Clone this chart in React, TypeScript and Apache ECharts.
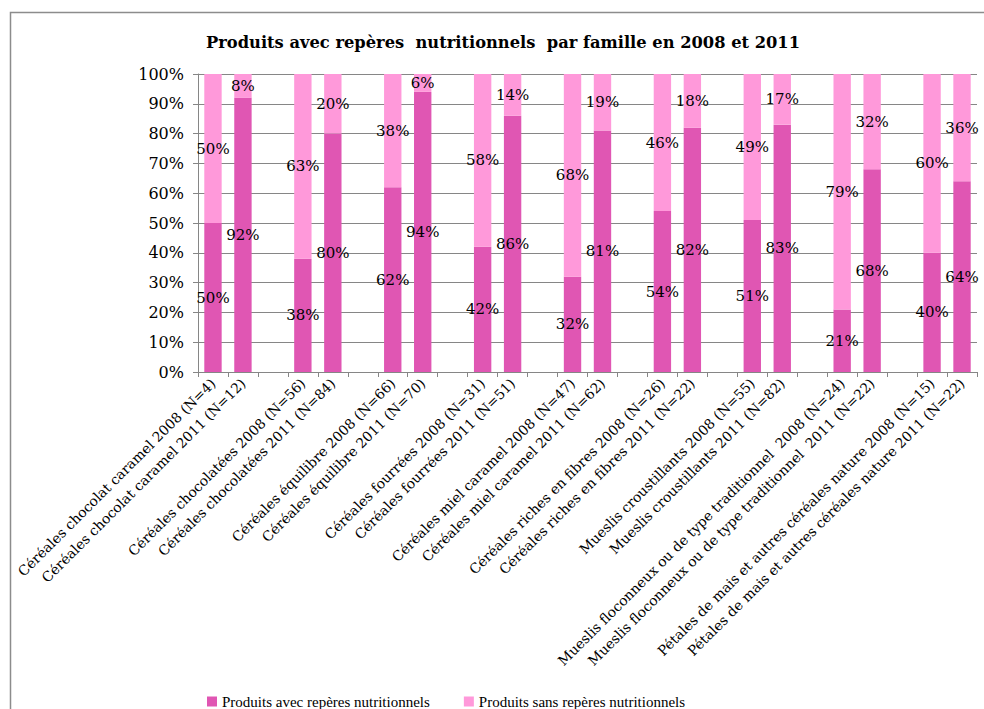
import React, { useEffect, useRef } from "react";
import * as echarts from "echarts";

const families = [
  "Céréales chocolat caramel",
  "Céréales chocolatées",
  "Céréales équilibre",
  "Céréales fourrées",
  "Céréales miel caramel",
  "Céréales riches en fibres",
  "Mueslis croustillants",
  "Mueslis floconneux ou de type traditionnel ",
  "Pétales de mais et autres céréales nature",
];
const n2008 = [4, 56, 66, 31, 47, 26, 55, 24, 15];
const n2011 = [12, 84, 70, 51, 62, 22, 82, 22, 22];
const avec2008 = [50, 38, 62, 42, 32, 54, 51, 21, 40];
const avec2011 = [92, 80, 94, 86, 81, 82, 83, 68, 64];
const sans2008 = [50, 63, 38, 58, 68, 46, 49, 79, 60];
const sans2011 = [8, 20, 6, 14, 19, 18, 17, 32, 36];

const seriesNames = ["Produits avec repères nutritionnels", "Produits sans repères nutritionnels"];
const titleText = "Produits avec repères  nutritionnels  par famille en 2008 et 2011";

const categories: string[] = [];
const avecData: (number | string)[] = [];
const sansData: (number | string)[] = [];
families.forEach((f, i) => {
  if (i > 0) {
    categories.push(" ".repeat(i));
    avecData.push("-");
    sansData.push("-");
  }
  categories.push(`${f} 2008 (N=${n2008[i]})`);
  categories.push(`${f} 2011 (N=${n2011[i]})`);
  avecData.push(avec2008[i], avec2011[i]);
  sansData.push(sans2008[i], sans2011[i]);
});

const FONT = "'DejaVu Serif', serif";

export default function App() {
  const ref = useRef<HTMLDivElement>(null);
  useEffect(() => {
    if (!ref.current) return;
    const chart = echarts.init(ref.current, null, { renderer: "svg" });
    const label = {
      show: true,
      position: "inside",
      color: "#000",
      fontFamily: FONT,
      fontSize: 15,
      formatter: (p: any) => `${p.value}%`,
    };
    chart.setOption({
      animation: false,
      backgroundColor: "#fff",
      title: {
        text: titleText,
        left: 201,
        top: 29,
        textStyle: { fontFamily: FONT, fontWeight: "bold", fontSize: 16.3, color: "#000" },
      },
      graphic: [
        {
          type: "rect",
          shape: { x: 10.5, y: 12.5, width: 1000, height: 720 },
          style: { fill: "none", stroke: "#8c8c8c", lineWidth: 1.5 },
          silent: true,
        },
      ],
      legend: {
        left: 202,
        top: 689,
        itemWidth: 10,
        itemHeight: 10,
        itemGap: 34,
        icon: "rect",
        textStyle: { fontFamily: "'Liberation Serif', serif", fontSize: 15, color: "#000" },
        data: seriesNames,
      },
      grid: { left: 198, right: 7, top: 74, bottom: 337, containLabel: false },
      xAxis: {
        type: "category",
        data: categories,
        axisLine: { lineStyle: { color: "#868686" } },
        axisTick: { show: true, interval: 0, length: 5, lineStyle: { color: "#868686" } },
        axisLabel: {
          interval: 0,
          rotate: 45,
          margin: 9,
          color: "#000",
          fontFamily: FONT,
          fontSize: 13.8,
        },
      },
      yAxis: {
        type: "value",
        min: 0,
        max: 100,
        interval: 10,
        axisLine: { show: true, lineStyle: { color: "#868686" } },
        axisTick: { show: true, length: 5, lineStyle: { color: "#868686" } },
        splitLine: { lineStyle: { color: "#868686" } },
        axisLabel: {
          formatter: "{value}%",
          color: "#000",
          fontFamily: FONT,
          fontSize: 16,
          margin: 14,
        },
      },
      series: [
        {
          name: seriesNames[0],
          type: "bar",
          stack: "t",
          barWidth: "58%",
          data: avecData,
          itemStyle: { color: "#E056B3" },
          label,
        },
        {
          name: seriesNames[1],
          type: "bar",
          stack: "t",
          barWidth: "58%",
          data: sansData,
          itemStyle: { color: "#FF99DA" },
          label,
        },
      ],
    });
    return () => chart.dispose();
  }, []);
  return (
    <div
      ref={ref}
      style={{ position: "fixed", left: 0, top: 0, width: 984, height: 709, background: "#fff" }}
    />
  );
}
